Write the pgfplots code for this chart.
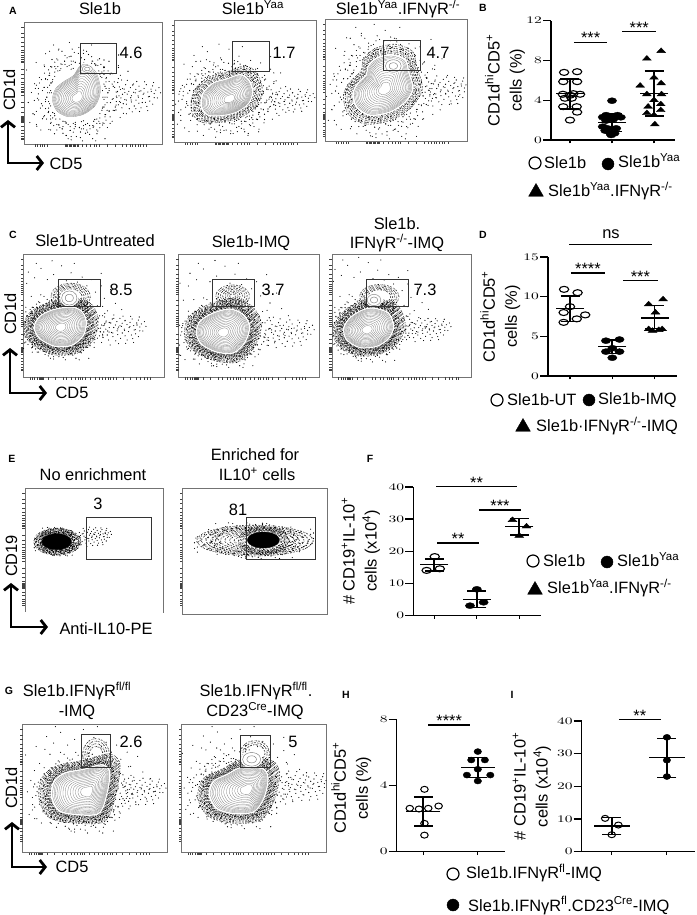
\documentclass[border=0pt]{standalone}
\usepackage{fontspec}
\setmainfont{Liberation Sans}
\usepackage{graphicx}
\usepackage{pgfplots}
\usepackage{pgfplotstable}
\pgfplotsset{compat=1.18}
\usetikzlibrary{arrows.meta}
\newcommand{\fs}{\fontsize{16.4}{19}\selectfont}
\newcommand{\sm}{\fontsize{10}{10}\selectfont}
% gate and contour outlines, read in zoomed (3x) pixels of each panel
\pgfplotstableread[row sep=\\]{x y\\240 195\\262 190\\290 215\\303 260\\300 290\\285 320\\250 345\\205 352\\170 335\\155 300\\165 265\\195 240\\220 225\\}\blobAa
\pgfplotstableread[row sep=\\]{x y\\720 225\\745 240\\757 275\\745 310\\710 335\\670 345\\625 345\\605 320\\610 280\\640 250\\680 238\\}\blobAb
\pgfplotstableread[row sep=\\]{x y\\1105 200\\1130 175\\1175 165\\1215 180\\1225 215\\1238 265\\1215 305\\1170 335\\1110 345\\1070 320\\1060 280\\1075 250\\1100 225\\}\blobAc
\pgfplotstableread[row sep=\\]{x y\\215 262\\245 275\\258 305\\250 345\\215 375\\165 378\\120 355\\103 322\\120 290\\160 270\\}\blobCa
\pgfplotstableread[row sep=\\]{x y\\690 268\\730 285\\748 320\\735 365\\700 398\\650 395\\605 372\\590 340\\600 305\\640 280\\}\blobCb
\pgfplotstableread[row sep=\\]{x y\\1120 265\\1165 280\\1180 320\\1165 355\\1130 378\\1080 382\\1040 358\\1032 325\\1050 295\\1085 272\\}\blobCc
\pgfplotstableread[row sep=\\]{x y\\305 285\\328 305\\320 370\\295 430\\220 432\\175 420\\155 380\\162 335\\195 310\\255 298\\}\blobGa
\pgfplotstableread[row sep=\\]{x y\\725 293\\790 298\\803 330\\790 385\\760 425\\700 430\\650 415\\628 375\\640 335\\680 315\\}\blobGb
\pgfplotstableread[row sep=\\]{x y\\1 0\\.87 .5\\.5 .87\\0 1\\-.5 .87\\-.87 .5\\-1 0\\-.87 -.5\\-.5 -.87\\0 -1\\.5 -.87\\.87 -.5\\}\ovalT
\pgfplotstableread[row sep=\\]{x y\\-1.9 -.3\\-1.7 .5\\-1.6 -1.0\\-1.5 1.1\\-1.45 -.1\\-1.4 .75\\-1.3 -1.3\\-1.28 1.25\\-1.22 .2\\-1.2 -.7\\-1.15 1.4\\-1.05 -1.2\\-1.0 -1.65\\-.9 1.38\\-.8 -1.42\\-.72 1.55\\-.6 -1.8\\-.55 1.3\\-.4 -1.35\\-.35 1.62\\-.2 -1.55\\-.1 1.35\\.05 -1.9\\.1 1.48\\.2 -1.3\\.3 1.4\\.35 -1.62\\.5 1.3\\.55 -1.25\\.62 1.55\\.7 -1.45\\.8 1.2\\.85 -1.1\\.95 1.3\\1.0 -1.35\\1.1 1.05\\1.12 -.85\\1.18 -.3\\1.22 .6\\1.25 .1\\1.3 -1.1\\1.35 .9\\1.4 -.6\\1.45 .35\\1.5 -.1\\1.55 .75\\1.6 -.95\\1.7 .2\\1.75 -.4\\1.85 .55\\1.95 -.15\\2.05 .3\\-1.35 -.45\\-1.55 .3\\-1.1 .95\\-1.75 -.7\\-.25 -2.1\\.45 -2.0\\-.75 -2.0\\1.3 -1.6\\-2.1 .9\\-2.0 1.35\\}\cloudT
\pgfplotstableread[row sep=\\]{x y\\1.3 .2\\1.4 .55\\1.45 -.2\\1.5 .05\\1.55 .4\\1.6 .7\\1.62 -.35\\1.7 .25\\1.75 .5\\1.78 -.05\\1.85 .75\\1.9 .15\\1.92 .38\\2.0 -.15\\2.02 .6\\2.08 .28\\2.15 .05\\2.18 .45\\2.25 .7\\2.3 .2\\2.35 -.1\\2.4 .4\\2.45 .62\\2.5 .1\\2.55 .33\\2.6 -.2\\2.65 .5\\2.7 .15\\1.35 .85\\1.65 1.0\\1.95 .92\\2.2 .9\\2.48 .85\\}\tailT
% flow panel tick offsets from the left / top edge, zoomed pixels
\pgfplotstableread[row sep=\\]{x d\\33 0\\40 0\\48 0\\55 0\\62 0\\70 0\\123 0\\127 0\\131 0\\135 0\\139 0\\143 0\\147 0\\151 0\\155 0\\159 0\\163 0\\175 0\\188 0\\200 0\\210 0\\218 0\\226 0\\250 0\\273 0\\296 0\\308 0\\318 0\\326 0\\334 0\\342 0\\350 0\\358 0\\368 0\\}\xtA
\pgfplotstableread[row sep=\\]{x d\\20 0\\27 0\\34 0\\41 0\\47 0\\50 0\\53 0\\56 0\\60 0\\75 0\\95 0\\120 0\\130 0\\145 0\\155 0\\165 0\\172 0\\178 0\\185 0\\200 0\\215 0\\228 0\\238 0\\246 0\\254 0\\262 0\\270 0\\280 0\\300 0\\320 0\\340 0\\352 0\\362 0\\372 0\\380 0\\}\xtC
\pgfplotstableread[row sep=\\]{d y\\0 15\\0 33\\0 45\\0 60\\0 72\\0 82\\0 90\\0 97\\0 104\\0 110\\0 115\\0 120\\0 140\\0 155\\0 168\\0 178\\0 186\\0 193\\0 199\\0 205\\0 210\\0 218\\0 240\\0 255\\0 268\\0 280\\0 284\\0 287\\0 290\\0 293\\0 296\\0 300\\0 312\\0 322\\0 332\\0 340\\0 346\\0 350\\}\ytT
\newcommand{\setpanel}[6]{%
 \pgfmathsetmacro{\pL}{#1+#3/3}\pgfmathsetmacro{\pB}{915-#2-#6/3}%
 \pgfmathsetmacro{\pW}{(#5-#3)/3}\pgfmathsetmacro{\pH}{(#6-#4)/3}%
 \xdef\pLg{\pL}\xdef\pBg{\pB}\xdef\pWg{\pW}\xdef\pHg{\pH}%
 \xdef\zL{#3}\xdef\zT{#4}\xdef\zR{#5}\xdef\zB{#6}}
\pgfplotsset{
 flow/.style={scale only axis,anchor=south west,at={(\pLg pt,\pBg pt)},width=\pWg pt,height=\pHg pt,
  xmin=\zL,xmax=\zR,ymin=\zT,ymax=\zB,y dir=reverse,clip mode=individual,
  axis line style={black!55,line width=.7pt},
  xtick=\empty,ytick=\empty},
 dot/.style n args={6}{scale only axis,anchor=south west,at={(#1pt,915pt-#4pt)},
  width=\dimexpr #3pt-#1pt\relax,height=\dimexpr #4pt-#2pt\relax,
  xmin=#5,xmax=#6,ymin=0,clip=false,
  axis x line=bottom,axis y line=left,axis line style={-,line width=1.5pt},
  xtick=\empty,extra x ticks={1,2,3},extra x tick labels={},
  extra x tick style={major tick length=3.5pt,tick style={line width=1.2pt,black}},
  tick align=outside,ytick style={line width=1.2pt,black},major tick length=8pt,
  yticklabel style={inner sep=1pt},
  yticklabel={\sm\scalebox{1.55}[1]{\pgfmathprintnumber{\tick}}},
  ylabel style={align=center,font=\fontsize{16.4}{22}\selectfont,anchor=center}},
 ptO/.style={only marks,mark=o,mark size=3pt,mark options={xscale=1.55,line width=1.1pt,black}},
 ptF/.style={only marks,mark=*,mark size=3pt,mark options={xscale=1.55,black}},
 ptT/.style={only marks,mark=triangle*,mark size=3.5pt,mark options={xscale=1.45,yscale=.9,black}},
 sdbar/.style={only marks,mark=-,mark size=#1,mark options={line width=1.4pt,black},
  error bars/.cd,y dir=both,y explicit,error bar style={line width=1.8pt,black},
  error mark=|,error mark options={line width=1.4pt,black,mark size=9.5pt,rotate=0}},
 sdbar/.default=14pt,
 sig/.style={black,line width=1.3pt},
 speckle/.style={only marks,mark=*,mark size=.27pt,black,forget plot},
 grain/.style={black,line width=.85pt,dash pattern=on .5pt off 1.2pt on .4pt off .6pt on .6pt off 1.9pt on .4pt off .9pt,smooth cycle,forget plot}}
\newcommand{\sigbar}[4]{\addplot[sig] coordinates {(#1,#3)(#2,#3)} node[midway,above=-5.5pt,font=\fs] {#4};}
\newcommand{\speck}[5]{\pgfplotsinvokeforeach{#5}{%
 \addplot[speckle] table[x expr=#1+##1*#3*\thisrow{x},y expr=#2+##1*#4*\thisrow{y}] {\cloudT};
 \addplot[speckle] table[x expr=#1-##1*#3*\thisrow{y},y expr=#2+##1*#4*\thisrow{x}] {\cloudT};
 \addplot[speckle] table[x expr=#1-##1*#3*\thisrow{x},y expr=#2-##1*#4*\thisrow{y}] {\cloudT};
 \addplot[speckle] table[x expr=#1+##1*#3*\thisrow{y},y expr=#2-##1*#4*\thisrow{x}] {\cloudT};}}
\newcommand{\rings}[4]{\pgfplotsinvokeforeach{#4}{\addplot[grain] table[x expr=#2+##1*(\thisrow{x}-#2),y expr=#3+##1*(\thisrow{y}-#3)] {#1};}}
\newcommand{\ovrings}[5]{\pgfplotsinvokeforeach{#5}{\addplot[grain] table[x expr=#1+##1*#3*\thisrow{x},y expr=#2+##1*#4*\thisrow{y}] {\ovalT};}}
\newcommand{\flowticks}[1]{%
 \addplot[only marks,mark=|,mark size=1.4pt,mark options={black!75,line width=.35pt,yshift=-1.4pt},forget plot] table[x expr=\zL+\thisrow{x},y expr=\zB] {#1};
 \addplot[only marks,mark=-,mark size=1.4pt,mark options={black!75,line width=.35pt,xshift=-1.4pt},forget plot] table[x expr=\zL,y expr=\zT+\thisrow{y}] {\ytT};}
\newcommand{\contour}[3]{%
 \addplot[white,line width=1.8pt,fill=white,smooth cycle] table {#1};
 \pgfplotsinvokeforeach{.97,.93,.89,.85,.8,.75,.69,.63,.56,.49,.42,.35,.28,.21}{\addplot[black!50,line width=.28pt,smooth cycle] table[x expr=#2+##1*(\thisrow{x}-#2),y expr=#3+##1*(\thisrow{y}-#3)] {#1};}
 \addplot[white,fill=white,smooth cycle] table[x expr=#2+.08*(\thisrow{x}-#2),y expr=#3+.08*(\thisrow{y}-#3)] {#1};}
\newcommand{\spots}[5]{\addplot[speckle] table[x expr=#2+#4*\thisrow{x},y expr=#3+#5*\thisrow{y}] {#1};}
\newcommand{\tails}[4]{\spots{\tailT}{#1}{#2}{#3}{#4}
 \addplot[speckle] table[x expr=#1+1.08*#3*\thisrow{x},y expr=#2-.8*#4*\thisrow{y}] {\tailT};}
\newcommand{\lump}[4]{\addplot[white,fill=white,smooth cycle] table[x expr=#1+#3*\thisrow{x},y expr=#2+#4*\thisrow{y}] {\ovalT};
 \addplot[black!55,line width=.4pt,smooth cycle] table[x expr=#1+.85*#3*\thisrow{x},y expr=#2+.85*#4*\thisrow{y}] {\ovalT};
 \addplot[black!55,line width=.4pt,smooth cycle] table[x expr=#1+.45*#3*\thisrow{x},y expr=#2+.45*#4*\thisrow{y}] {\ovalT};}
\newcommand{\gate}[4]{\addplot[black!80,line width=.8pt] coordinates {(#1,#2)(#3,#2)(#3,#4)(#1,#4)(#1,#2)};}
\newcommand{\txt}[3]{\node[anchor=base,inner sep=0pt,font=\fs] at (#1pt,915pt-#2pt) {#3};}
\newcommand{\ltxt}[3]{\node[anchor=base west,inner sep=0pt,font=\fs] at (#1pt,915pt-#2pt) {#3};}
\newcommand{\rtxt}[3]{\node[anchor=base,rotate=90,inner sep=0pt,font=\fs] at (#1pt,915pt-#2pt) {#3};}
\newcommand{\ptxt}[3]{\node[inner sep=0pt,font=\fontsize{10.5}{10.5}\selectfont\bfseries] at (#1pt,915pt-#2pt) {#3};}
\newcommand{\larrow}[4]{\draw[line width=2.8pt,{Straight Barb[length=5.5pt,width=14pt]}-{Straight Barb[length=5.5pt,width=14pt]}] (#1pt,915pt-#3pt) -- (#1pt,915pt-#2pt) -- (#4pt,915pt-#2pt);}
\newcommand{\up}[1]{\textsuperscript{#1}}
\begin{document}
\begin{tikzpicture}
\path[use as bounding box] (0,0) rectangle (696pt,915pt);
% panel A
\setpanel{0}{0}{72}{68}{488}{432}
\begin{axis}[flow]
\flowticks{\xtA}
\speck{232}{285}{75}{80}{.82}
\spots{\cloudT}{232}{285}{95}{75}
\tails{225}{285}{88}{55}
\contour{\blobAa}{232}{295}
\lump{262}{207}{18}{12}
\gate{241}{129}{349}{220}
\end{axis}
\setpanel{0}{0}{523}{62}{948}{428}
\begin{axis}[flow]
\flowticks{\xtA}
\rings{\blobAb}{682}{292}{1.06,1.12,1.18,1.25,1.32,1.4}
\speck{682}{290}{82}{62}{.85}
\spots{\cloudT}{682}{290}{100}{75}
\tails{682}{298}{90}{42}
\contour{\blobAb}{690}{298}
\gate{697}{124}{808}{214}
\end{axis}
\setpanel{0}{0}{976}{58}{1402}{425}
\begin{axis}[flow]
\flowticks{\xtA}
\rings{\blobAc}{1150}{262}{1.05,1.1,1.15,1.21,1.27,1.33}
\speck{1150}{262}{92}{92}{.8}
\spots{\cloudT}{1150}{262}{110}{90}
\tails{1150}{268}{90}{50}
\contour{\blobAc}{1155}{268}
\lump{1180}{198}{28}{22}
\gate{1150}{121}{1261}{212}
\end{axis}
% panel C
\setpanel{0}{220}{70}{102}{493}{471}
\begin{axis}[flow]
\flowticks{\xtC}
\rings{\blobCa}{180}{322}{1.03,1.06,1.09,1.12,1.15,1.18,1.22,1.26,1.3,1.35,1.4,1.46}
\speck{180}{322}{80}{58}{.8}
\ovrings{212}{230}{62}{42}{.95,.85,.75,.65,.55}
\spots{\cloudT}{180}{280}{95}{75}
\tails{190}{325}{85}{50}
\contour{\blobCa}{182}{322}
\lump{208}{234}{27}{25}
\gate{174}{179}{302}{259}
\end{axis}
\setpanel{0}{220}{536}{102}{958}{471}
\begin{axis}[flow]
\flowticks{\xtC}
\rings{\blobCb}{670}{338}{1.03,1.06,1.09,1.12,1.15,1.18,1.22,1.26,1.3,1.35,1.4,1.46}
\speck{670}{338}{82}{62}{.8}
\ovrings{698}{228}{46}{30}{1.1,.95,.8,.65,.5,.35,.2}
\spots{\cloudT}{670}{300}{100}{85}
\tails{680}{335}{90}{48}
\contour{\blobCb}{670}{338}
\gate{636}{179}{764}{259}
\end{axis}
\setpanel{0}{220}{996}{102}{1414}{471}
\begin{axis}[flow]
\flowticks{\xtC}
\rings{\blobCc}{1102}{328}{1.03,1.06,1.09,1.12,1.15,1.18,1.22,1.26,1.3,1.35,1.4,1.46}
\speck{1102}{325}{76}{60}{.8}
\ovrings{1138}{230}{62}{38}{.95,.85,.75,.65,.55}
\spots{\cloudT}{1100}{280}{95}{80}
\tails{1105}{325}{85}{40}
\contour{\blobCc}{1100}{330}
\lump{1122}{240}{24}{20}
\gate{1098}{179}{1225}{259}
\end{axis}
% panel E
\setpanel{0}{445}{75}{130}{490}{503}
\begin{axis}[flow]
\addplot[only marks,mark=-,mark size=1.4pt,mark options={black!75,line width=.35pt,xshift=-1.4pt},forget plot] table[x expr=\zL,y expr=\zT+\thisrow{y}] {\ytT};
\ovrings{172}{290}{44}{25}{1,1.1,1.2,1.3,1.4,1.5,1.6}
\speck{172}{290}{44}{27}{.75}
\addplot[black,fill=black,smooth cycle] table[x expr=170+44*\thisrow{x},y expr=290+24*\thisrow{y}] {\ovalT};
\tails{165}{272}{58}{32}
\gate{259}{217}{455}{343}
\addplot[white,line width=2pt,forget plot] coordinates {(75,503)(490,503)};
\end{axis}
\setpanel{0}{445}{547}{130}{982}{508}
\begin{axis}[flow]
\addplot[only marks,mark=-,mark size=1.4pt,mark options={black!75,line width=.35pt,xshift=-1.4pt},forget plot] table[x expr=\zL,y expr=\zT+\thisrow{y}] {\ytT};
\ovrings{765}{287}{175}{46}{1,.92,.84,.76,.68,.6,.52,.44,.36}
\speck{762}{287}{100}{30}{.85}
\ovrings{790}{287}{50}{28}{1.1,1.2,1.3,1.4,1.5}
\addplot[black,fill=black,smooth cycle] table[x expr=790+48*\thisrow{x},y expr=285+24*\thisrow{y}] {\ovalT};
\gate{740}{216}{946}{343}
\end{axis}
% panel G
\setpanel{0}{670}{68}{163}{502}{548}
\begin{axis}[flow]
\flowticks{\xtC}
\rings{\blobGa}{250}{368}{1.03,1.06,1.09,1.12,1.15,1.18,1.22,1.26,1.3,1.35,1.4}
\speck{245}{368}{88}{72}{.8}
\ovrings{288}{255}{42}{52}{.95,.8,.65,.5}
\spots{\cloudT}{245}{340}{105}{85}
\tails{250}{360}{85}{48}
\contour{\blobGa}{265}{365}
\gate{243}{192}{332}{293}
\end{axis}
\setpanel{0}{670}{544}{163}{980}{548}
\begin{axis}[flow]
\flowticks{\xtC}
\rings{\blobGb}{715}{358}{1.03,1.06,1.09,1.12,1.15,1.18,1.22,1.26,1.3,1.35,1.4}
\speck{715}{355}{90}{72}{.8}
\ovrings{765}{250}{46}{40}{.95,.8,.65}
\spots{\cloudT}{715}{330}{105}{80}
\tails{730}{345}{90}{50}
\contour{\blobGb}{745}{358}
\lump{755}{268}{32}{24}
\gate{720}{197}{810}{291}
\end{axis}
% panel B
\begin{axis}[dot={551}{20.7}{675}{140}{.548}{3.5},ymax=12,ytick={0,4,8,12},
 ylabel={CD1d\up{hi}CD5\up{+}\\cells (\%)},ylabel style={at={(axis description cs:-.37,.5)}}]
\addplot[ptO] coordinates {(.86,6.8)(1.17,6.87)(.84,5.87)(1.17,5.87)(.83,4.6)(1,4.5)(1.24,4.6)(1.08,4.66)(.88,4.2)(1.04,4.2)(.84,3.35)(1.16,3.35)(1,2.0)(1.17,2.8)};
\addplot[ptF] coordinates {(2,3.95)(1.86,2.5)(2.13,2.5)(1.78,2.3)(1.94,2.35)(2.1,2.35)(2.21,2.28)(1.86,1.95)(2.03,2.08)(1.78,1.34)(1.89,1.17)(2.1,1.17)(1.84,.94)(1.96,.67)(2.06,.67)(1.98,.5)};
\addplot[ptT] coordinates {(2.83,8.18)(3.17,8.95)(2.67,5.46)(3.17,5.7)(3,6.27)(2.83,4.6)(3.18,4.6)(2.86,3.35)(3.16,3.6)(3,4)(2.83,2.7)(3.16,3)(3,2.5)(3.02,1.57)};
\addplot[sdbar] coordinates {(1,4.7) += (0,1.43) -= (0,1.6)};
\addplot[sdbar] coordinates {(2,1.78) += (0,.9) -= (0,.94)};
\addplot[sdbar] coordinates {(3,4.69) += (0,2.25) -= (0,2.28)};
\sigbar{1.095}{1.889}{9.82}{***}
\sigbar{2.246}{3.05}{10.9}{***}
\end{axis}
% panel D
\begin{axis}[dot={548}{257}{677}{376}{.48}{3.53},ymax=15,ytick={0,5,10,15},
 ylabel={CD1d\up{hi}CD5\up{+}\\cells (\%)},ylabel style={at={(axis description cs:-.37,.5)}}]
\addplot[ptO] coordinates {(.86,10.92)(1.18,10.5)(1,8.74)(.85,8.0)(1.36,7.7)(1.16,7.2)(.85,6.76)};
\addplot[ptF] coordinates {(1.85,4.45)(2.17,4.6)(1.85,3.07)(2.17,3.07)(2,3.5)(2,2.3)};
\addplot[ptT] coordinates {(2.86,9.03)(3.2,9.66)(3.02,8)(2.86,5.9)(3.1,5.8)(3.18,5.9)(2.95,5.7)};
\addplot[sdbar] coordinates {(1,8.53) += (0,1.57) -= (0,1.68)};
\addplot[sdbar] coordinates {(2,3.7) += (0,.84) -= (0,.84)};
\addplot[sdbar] coordinates {(3,7.3) += (0,1.6) -= (0,1.3)};
\sigbar{1.02}{1.83}{12.98}{****}
\sigbar{2.26}{3.07}{12}{***}
\addplot[sig] coordinates {(.98,16.55)(2.93,16.55)};
\end{axis}
\txt{611}{239}{ns}
% panel F
\begin{axis}[dot={413.3}{487}{541}{615.3}{.506}{3.51},ymax=40,ytick={0,10,20,30,40},
 ylabel={\# CD19\up{+}IL-10\up{+}\\cells (x10\up{4})},ylabel style={at={(axis description cs:-.41,.5)}}]
\addplot[ptO] coordinates {(1.01,18.3)(.82,14)(1.13,14.5)};
\addplot[ptF] coordinates {(2,8.1)(2.16,4.05)(1.84,3)};
\addplot[ptT] coordinates {(2.84,29.7)(3.17,27.7)(3,24.8)};
\addplot[sdbar] coordinates {(1,15.8) += (0,1.7) -= (0,2)};
\addplot[sdbar] coordinates {(2,5) += (0,2.6) -= (0,2.6)};
\addplot[sdbar] coordinates {(3,27.6) += (0,2.6) -= (0,2.6)};
\sigbar{1.04}{2.95}{40.1}{**}
\sigbar{2.05}{3.04}{32.8}{***}
\sigbar{1.07}{2.05}{22.5}{**}
\end{axis}
% panel H
\begin{axis}[dot={396.7}{719.3}{505}{851.7}{.51}{2.5},ymax=8,ytick={0,4,8},
 ylabel={CD1d\up{hi}CD5\up{+}\\cells (\%)},ylabel style={at={(axis description cs:-.42,.48)}},
 ptO/.append style={mark options={xscale=1.25,line width=1pt,black}},ptF/.append style={mark options={xscale=1.25,black}}]
\addplot[ptO] coordinates {(1.02,3.77)(.75,2.62)(.92,2.58)(1.09,2.62)(1.28,2.76)(1.02,1.71)(1.02,1)};
\addplot[ptF] coordinates {(2,6.05)(1.88,5.54)(2.13,5.54)(2,4.98)(1.8,4.63)(2.23,4.63)(2,4.27)};
\addplot[sdbar=17pt] coordinates {(1,2.42) += (0,.88) -= (0,.87)};
\addplot[sdbar=17pt] coordinates {(2,5.08) += (0,.62) -= (0,.61)};
\sigbar{1.09}{1.86}{7.66}{****}
\end{axis}
% panel I
\begin{axis}[dot={581.7}{721}{695}{851.7}{.455}{2.51},ymax=40,ytick={0,10,20,30,40},
 ylabel={\# CD19\up{+}IL-10\up{+}\\cells (x10\up{4})},ylabel style={at={(axis description cs:-.44,.5)}},
 ptO/.append style={mark options={xscale=1.25,line width=1pt,black}},ptF/.append style={mark options={xscale=1.25,black}}]
\addplot[ptO] coordinates {(.88,10.2)(1.12,8.16)(1,5.2)};
\addplot[ptF] coordinates {(2,35)(2,28)(2,23)};
\addplot[sdbar=18pt] coordinates {(1,7.86) += (0,2.54) -= (0,2.56)};
\addplot[sdbar=18pt] coordinates {(2,28.8) += (0,5.9) -= (0,6.1)};
\sigbar{1.127}{1.89}{40.4}{**}
\end{axis}
% legend markers, in image pixels
\begin{axis}[scale only axis,anchor=south west,at={(0pt,0pt)},width=696pt,height=915pt,hide axis,
 xmin=0,xmax=696,ymin=0,ymax=915,y dir=reverse,clip=false]
\addplot[only marks,mark=o,mark size=6pt,mark options={line width=1.2pt,black}] coordinates {(535,163)(497,400)(533,561)(453,874)};
\addplot[only marks,mark=*,mark size=6pt,mark options={black}] coordinates {(608,164)(589,400)(607,562)(453,905)};
\addplot[only marks,mark=triangle*,mark size=8.5pt,mark options={black}] coordinates {(536,192)(523,427)(535,590)};
\end{axis}
% text
\txt{100}{15}{Sle1b}\txt{253}{15}{Sle1b\up{Yaa}}\txt{398}{15}{Sle1b\up{Yaa}.IFNγR\up{-/-}}
\txt{95}{247}{Sle1b-Untreated}\txt{251}{248}{Sle1b-IMQ}\txt{397}{230}{Sle1b.}\txt{397}{249}{IFNγR\up{-/-}-IMQ}
\txt{93}{481}{No enrichment}\txt{255}{461}{Enriched for}\txt{257}{481}{IL10\up{+} cells}
\txt{77}{697}{Sle1b.IFNγR\up{fl/fl}}\txt{77}{717}{-IMQ}\txt{256}{697}{Sle1b.IFNγR\up{fl/fl}.}\txt{255}{717}{CD23\up{Cre}-IMQ}
\txt{131}{59}{4.6}\txt{284}{59}{1.7}\txt{438}{59}{4.7}
\txt{121}{296}{8.5}\txt{273}{296}{3.7}\txt{425}{296}{7.3}
\txt{98}{510}{3}\txt{238}{516}{81}
\txt{131}{748}{2.6}\txt{293}{748}{5}
\txt{66}{170}{CD5}\rtxt{15}{90}{CD1d}\txt{72}{399}{CD5}\rtxt{16}{314}{CD1d}
\rtxt{17}{556}{CD19}\txt{106}{635}{Anti-IL10-PE}\rtxt{17}{788}{CD1d}\txt{72}{873}{CD5}
\larrow{8}{163}{120}{44}\larrow{10}{393}{348}{47}\larrow{11}{627}{583}{48}\larrow{12}{867}{822}{47}
\ptxt{13}{11}{A}\ptxt{483}{8}{B}\ptxt{13}{235}{C}\ptxt{483}{235}{D}\ptxt{12}{459}{E}\ptxt{9}{691}{G}\ptxt{346}{695}{H}\ptxt{512}{695}{I}
\ptxt{370}{459}{F}
\ltxt{544}{169}{Sle1b}\ltxt{618}{168}{Sle1b\up{Yaa}}\ltxt{548}{197}{Sle1b\up{Yaa}.IFNγR\up{-/-}}
\ltxt{507}{406}{Sle1b-UT}\ltxt{598}{405}{Sle1b-IMQ}\ltxt{536}{432}{Sle1b·IFNγR\up{-/-}-IMQ}
\ltxt{543}{567}{Sle1b}\ltxt{617}{567}{Sle1b\up{Yaa}}\ltxt{547}{594}{Sle1b\up{Yaa}.IFNγR\up{-/-}}
\ltxt{466}{879}{Sle1b.IFNγR\up{fl}-IMQ}\ltxt{468}{911}{Sle1b.IFNγR\up{fl}.CD23\up{Cre}-IMQ}
\end{tikzpicture}
\end{document}
